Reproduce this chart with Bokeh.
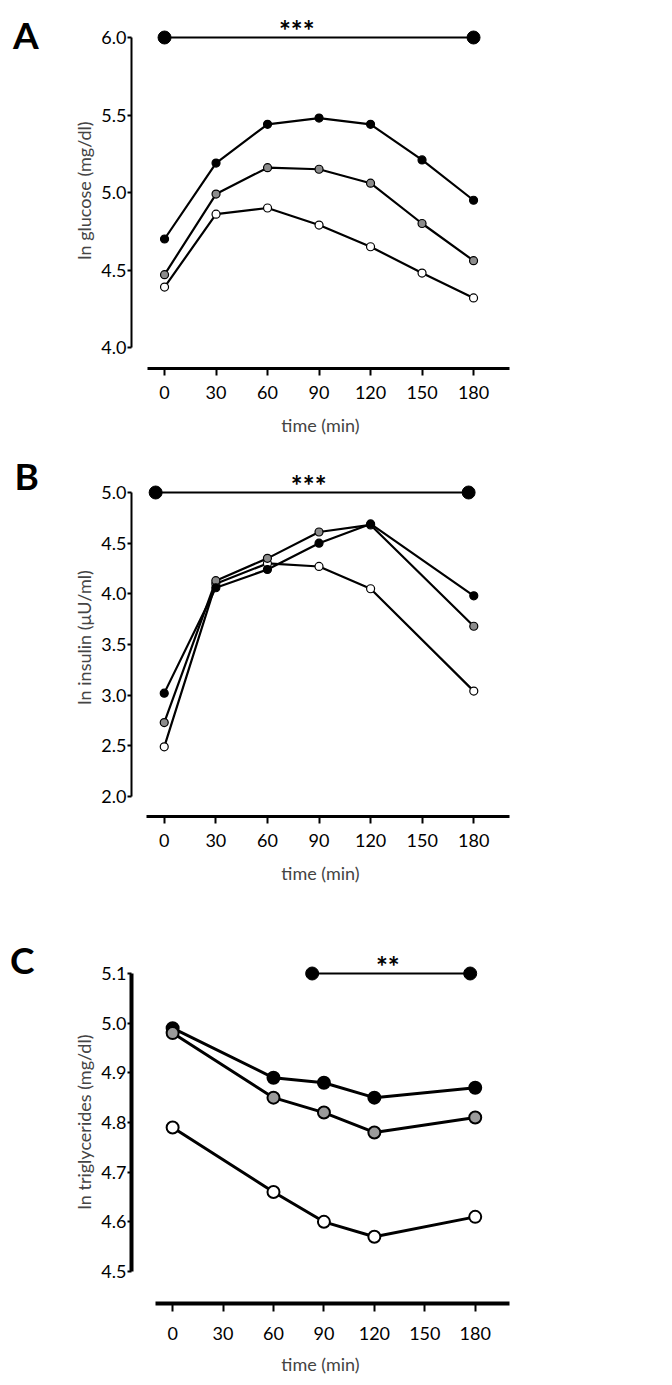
from bokeh.plotting import figure
from bokeh.layouts import column
from bokeh.models import Range1d, FixedTicker, Label, PrintfTickFormatter
from bokeh.core.properties import value
from bokeh.embed import file_html
from bokeh.resources import INLINE

# ---------------- data ----------------
time_a = [0, 30, 60, 90, 120, 150, 180]
glucose_black = [4.70, 5.19, 5.44, 5.48, 5.44, 5.21, 4.95]
glucose_gray = [4.47, 4.99, 5.16, 5.15, 5.06, 4.80, 4.56]
glucose_white = [4.39, 4.86, 4.90, 4.79, 4.65, 4.48, 4.32]

time_b = [0, 30, 60, 90, 120, 180]
insulin_black = [3.02, 4.06, 4.24, 4.50, 4.69, 3.98]
insulin_gray = [2.73, 4.13, 4.35, 4.61, 4.68, 3.68]
insulin_white = [2.49, 4.10, 4.30, 4.27, 4.05, 3.04]

time_c = [0, 60, 90, 120, 180]
tg_black = [4.99, 4.89, 4.88, 4.85, 4.87]
tg_gray = [4.98, 4.85, 4.82, 4.78, 4.81]
tg_white = [4.79, 4.66, 4.60, 4.57, 4.61]

sig_a_x = [0, 180]
sig_a_y = [6.0, 6.0]
sig_a_text = "***"
sig_a_text_x = 77

sig_b_x = [-5, 177]
sig_b_y = [5.0, 5.0]
sig_b_text = "***"
sig_b_text_x = 84

sig_c_x = [83, 177]
sig_c_y = [5.1, 5.1]
sig_c_text = "**"
sig_c_text_x = 128

x_ticks = [0, 30, 60, 90, 120, 150, 180]
y_ticks_a = [4.0, 4.5, 5.0, 5.5, 6.0]
y_ticks_b = [2.0, 2.5, 3.0, 3.5, 4.0, 4.5, 5.0]
y_ticks_c = [4.5, 4.6, 4.7, 4.8, 4.9, 5.0, 5.1]

FONT = "Lato"
GRAY_AB = "#8c8c8c"
GRAY_C = "#9b9b9b"
W = 664


def make_panel(height, ml, mr, mt, mb, xr, yr, xbounds, ybounds,
               yticks, ylabel, letter, letter_pos, axis_w_y, axis_w_x,
               tick_out_x, label_standoff_x, title_standoff_x):
    p = figure(width=W, height=height,
               x_range=Range1d(*xr), y_range=Range1d(*yr),
               output_backend="svg", toolbar_location=None,
               min_border_left=ml, min_border_right=mr,
               min_border_top=mt, min_border_bottom=mb)
    p.outline_line_color = None
    p.grid.visible = False

    xa = p.xaxis[0]
    xa.ticker = FixedTicker(ticks=x_ticks)
    xa.bounds = xbounds
    xa.axis_line_width = axis_w_x
    xa.major_tick_line_width = 2
    xa.major_tick_out = tick_out_x
    xa.major_tick_in = 0
    xa.minor_tick_out = 0
    xa.minor_tick_in = 0
    xa.major_label_text_font = FONT
    xa.major_label_text_font_size = "18px"
    xa.major_label_text_color = "black"
    xa.major_label_standoff = label_standoff_x
    xa.axis_label = "time (min)"
    xa.axis_label_text_font = FONT
    xa.axis_label_text_font_size = "18px"
    xa.axis_label_text_font_style = "normal"
    xa.axis_label_standoff = title_standoff_x

    ya = p.yaxis[0]
    ya.ticker = FixedTicker(ticks=yticks)
    ya.bounds = ybounds
    ya.formatter = PrintfTickFormatter(format="%.1f")
    ya.axis_line_width = axis_w_y
    ya.major_tick_line_width = 2
    ya.major_tick_out = 4
    ya.major_tick_in = 0
    ya.minor_tick_out = 0
    ya.minor_tick_in = 0
    ya.major_label_text_font = FONT
    ya.major_label_text_font_size = "18px"
    ya.major_label_text_color = "black"
    ya.major_label_standoff = 1
    ya.axis_label = ylabel
    ya.axis_label_text_font = FONT
    ya.axis_label_text_font_size = "18px"
    ya.axis_label_text_font_style = "normal"
    ya.axis_label_standoff = 3

    lab = Label(x=letter_pos[0], y=letter_pos[1], text=letter,
                text_font=FONT, text_font_size="37px", text_font_style="bold",
                text_color="black", text_baseline="alphabetic", text_align="left")
    p.add_layout(lab, "left")
    return p


def add_series(p, t, ys, fills, lw, size, mlw):
    for y, fc in zip(ys, fills):
        p.line(t, y, line_color="black", line_width=lw)
        p.scatter(t, y, size=size, fill_color=fc, line_color="black", line_width=mlw)


def add_sig(p, xs, ys, txt, tx, size, lw, yoff):
    p.line(xs, ys, line_color="black", line_width=lw)
    p.scatter(xs, ys, size=size, fill_color="black", line_color="black")
    p.text(x=[tx], y=[ys[0]], text=[txt], text_font=value(FONT),
           text_font_size="28px", text_font_style="bold", text_align="center",
           text_baseline="middle", y_offset=yoff, text_color="black")


# ---- geometry helpers (canvas pixel -> data) ----
def px2x(px, frame_left, x0, ppx):
    return x0 + (px - frame_left) / ppx


def py2y(py, frame_top, y1, ppy):
    return y1 - (py - frame_top) / ppy


# ---------------- panel A (canvas y 0..448) ----------------
ppx_a = 53 / 30
xr_a = (-(161 - 127) / ppx_a, (516 - 161) / ppx_a)
ppy_a = 155.0
yr_a = (4.0 - (368 - 347) / ppy_a, 6.0 + (37 - 12) / ppy_a)
pa = make_panel(448, 127, W - 516, 12, 448 - 368, xr_a, yr_a,
                (px2x(143, 127, xr_a[0], ppx_a), xr_a[1]), (4.0, 6.0),
                y_ticks_a, "ln glucose (mg/dl)", "A",
                (px2x(5, 127, xr_a[0], ppx_a), py2y(34, 12, yr_a[1], ppy_a)),
                2, 3, 7, 10, 12)
add_series(pa, time_a, [glucose_black, glucose_white, glucose_gray],
           ["black", "white", GRAY_AB], 2.2, 8, 1.2)
add_sig(pa, sig_a_x, sig_a_y, sig_a_text, sig_a_text_x, 13, 2.2, -8)

# ---------------- panel B (canvas y 448..890) ----------------
TB = 448
ppx_b = 52 / 30
xr_b = (-(161 - 128) / ppx_b, (509 - 161) / ppx_b)
ppy_b = 304 / 3
yr_b = (2.0 - (816 - 796) / ppy_b, 5.0 + (492 - 458) / ppy_b)
pb = make_panel(442, 128, W - 509, 458 - TB, TB + 442 - 816, xr_b, yr_b,
                (px2x(143, 128, xr_b[0], ppx_b), xr_b[1]), (2.0, 5.0),
                y_ticks_b, "ln insulin (\u03bcU/ml)", "B",
                (px2x(10, 128, xr_b[0], ppx_b), py2y(475, 458, yr_b[1], ppy_b)),
                2, 3, 7, 10, 12)
add_series(pb, time_b, [insulin_white, insulin_gray, insulin_black],
           ["white", GRAY_AB, "black"], 2.2, 8, 1.2)
add_sig(pb, sig_b_x, sig_b_y, sig_b_text, sig_b_text_x, 13, 2.2, -8)

# ---------------- panel C (canvas y 890..1377) ----------------
TC = 890
HC = 487
ppx_c = 51.5 / 30
xr_c = (-(173 - 131) / ppx_c, (517 - 173) / ppx_c)
ppy_c = (1271 - 973) / 0.6
yr_c = (4.5 - (1303 - 1271) / ppy_c, 5.1 + (973 - 940) / ppy_c)
pc = make_panel(HC, 131, W - 517, 940 - TC, TC + HC - 1303, xr_c, yr_c,
                (px2x(155, 131, xr_c[0], ppx_c), xr_c[1]), (4.5, 5.1),
                y_ticks_c, "ln triglycerides (mg/dl)", "C",
                (px2x(7, 131, xr_c[0], ppx_c), py2y(959, 940, yr_c[1], ppy_c)),
                4, 4, 8, 15, 10)
add_series(pc, time_c, [tg_black, tg_gray, tg_white],
           ["black", GRAY_C, "white"], 3, 12, 2)
add_sig(pc, sig_c_x, sig_c_y, sig_c_text, sig_c_text_x, 13, 2.2, -8)

layout = column(pa, pb, pc, spacing=0)
open("out.html", "w").write(file_html(layout, INLINE))
